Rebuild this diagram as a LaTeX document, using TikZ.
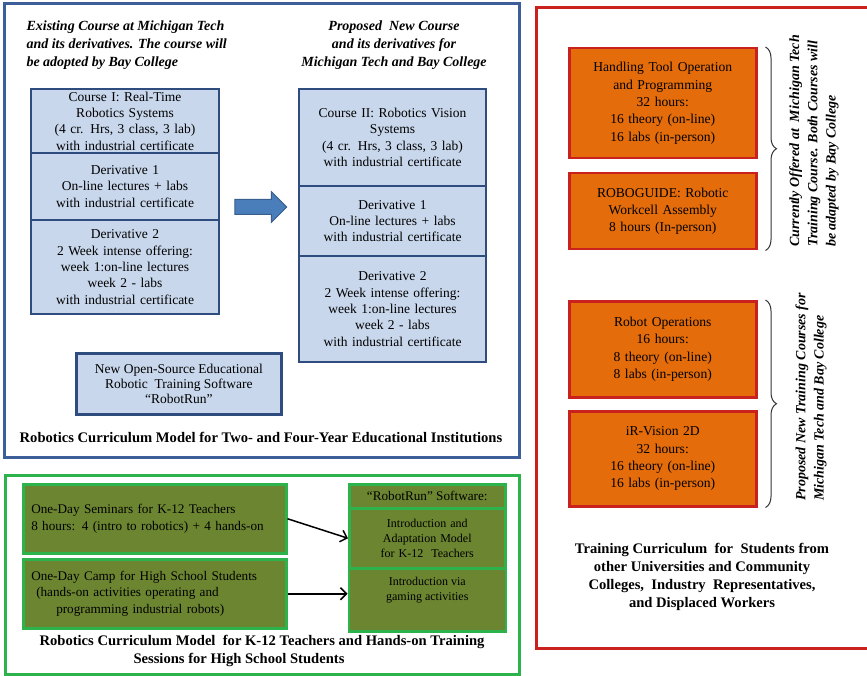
\documentclass[tikz,border=0pt]{standalone}
\usepackage{fontspec}
\setmainfont{Liberation Serif}
\usetikzlibrary{arrows.meta,positioning,shapes.arrows,decorations.pathreplacing}
\definecolor{frameblue}{HTML}{3D5F99}
\definecolor{boxblue}{HTML}{2E4D7E}
\definecolor{paleblue}{HTML}{C8D7EC}
\definecolor{arrowblue}{HTML}{4A7EBB}
\definecolor{framegreen}{HTML}{2DB34B}
\definecolor{kolive}{HTML}{6C8530}
\definecolor{framered}{HTML}{C9211E}
\definecolor{boxorange}{HTML}{E46C0A}

\begin{document}
\begin{tikzpicture}[x=1pt,y=-1pt,
	bluebox/.style={draw=boxblue,line width=2pt,fill=paleblue,align=center,inner xsep=2pt,inner ysep=1pt,font=\fontsize{13.5}{16.3}\selectfont},
	greenbox/.style={draw=framegreen,line width=2.5pt,fill=kolive,inner xsep=8pt,inner ysep=3pt,font=\fontsize{13.2}{16.5}\selectfont},
	orangebox/.style={draw=framered,line width=2.5pt,fill=boxorange,minimum width=187pt,text width=183pt,align=center,inner xsep=2pt,inner ysep=1pt,font=\fontsize{13.6}{17.3}\selectfont},
	heading/.style={font=\fontsize{14}{18.3}\selectfont\bfseries\itshape},
	caption/.style={font=\fontsize{14.6}{18}\selectfont\bfseries,align=center},
	arr/.style={-{Straight Barb[length=6pt,width=12pt]},line width=1.5pt},
	curly/.style={decorate,decoration={brace,amplitude=11pt},line width=1pt,draw=black!80}
	]
	\useasboundingbox (0,0) rectangle (867,676);
	% blue part: two- and four-year institutions
	\draw[frameblue,line width=3pt] (4,4) rectangle (519,457);
	\node[heading,anchor=west,align=left] (old) at (23,45) {Existing Course at Michigan Tech\\and its derivatives. The course will\\be adopted by Bay College};
	\node[heading,align=center] (new) at (394,45) {Proposed\ \ New Course\\and its derivatives for\\Michigan Tech and Bay College};
	\node[bluebox,minimum width=188pt,text width=184pt,minimum height=64pt,anchor=north west] (c1) at (30,88) {Course I: Real-Time\\Robotics Systems\\(4 cr. Hrs, 3 class, 3 lab)\\with industrial certificate};
	\node[bluebox,minimum width=188pt,text width=184pt,minimum height=67pt,below=-2pt of c1] (d1a) {Derivative 1\\On-line lectures + labs\\with industrial certificate};
	\node[bluebox,minimum width=188pt,text width=184pt,minimum height=94pt,below=-2pt of d1a] (d2a) {Derivative 2\\2 Week intense offering:\\week 1:on-line lectures\\week 2 - labs\\with industrial certificate};
	\node[bluebox,minimum width=187pt,text width=183pt,minimum height=97pt,anchor=north west] (c2) at (298,88) {Course II: Robotics Vision\\Systems\\(4 cr. Hrs, 3 class, 3 lab)\\with industrial certificate};
	\node[bluebox,minimum width=187pt,text width=183pt,minimum height=70pt,below=-2pt of c2] (d1b) {Derivative 1\\On-line lectures + labs\\with industrial certificate};
	\node[bluebox,minimum width=187pt,text width=183pt,minimum height=106pt,below=-2pt of d1b] (d2b) {Derivative 2\\2 Week intense offering:\\week 1:on-line lectures\\week 2 - labs\\with industrial certificate};
	\node[single arrow,draw=arrowblue!75!black,fill=arrowblue,line width=1pt,minimum height=52pt,inner xsep=0pt,inner ysep=7pt,single arrow head extend=8pt] (move) at (257,207) {};
	\node[bluebox,line width=2.8pt,minimum width=205pt,minimum height=61pt,anchor=north west,font=\fontsize{13.5}{15}\selectfont] (run) at (75,352) {New Open-Source Educational\\Robotic\ \ Training Software\\“RobotRun”};
	\node[caption] (cap1) at (261,437) {Robotics Curriculum Model for Two- and Four-Year Educational Institutions};
	% green part: K-12
	\draw[framegreen,line width=3pt] (5,475) rectangle (519,674);
	\node[greenbox,minimum width=263pt,minimum height=69pt,text width=247pt,align=left,anchor=north west] (sem) at (22,483) {One-Day Seminars for K-12 Teachers\\8 hours: 4 (intro to robotics) + 4 hands-on};
	\node[greenbox,minimum width=263pt,minimum height=69pt,text width=247pt,align=left,anchor=north west] (camp) at (22,558) {One-Day Camp for High School Students\\\mbox{}\hspace{5pt}(hands-on activities operating and\\\mbox{}\hspace{25pt}programming industrial robots)};
	\node[greenbox,minimum width=156pt,minimum height=24pt,inner ysep=1pt,inner xsep=2pt,anchor=north west] (soft) at (348,483) {“RobotRun” Software:};
	\node[greenbox,minimum width=156pt,minimum height=60pt,text width=148pt,inner xsep=4pt,align=center,below=-2.5pt of soft,font=\fontsize{12}{15}\selectfont] (ada) {Introduction and\\Adaptation Model\\for K-12\ \ Teachers};
	\node[greenbox,minimum width=157pt,minimum height=63pt,below=-2.5pt of ada,label={[anchor=north,yshift=-7pt,align=center,font=\fontsize{12}{15}\selectfont]north:Introduction via\\gaming activities}] (gam) {};
	\draw[arr] (sem.east) -- (ada.west);
	\draw[arr] (camp.east) -- (camp.east -| gam.west);
	\node[caption] (cap2) at (262,651) {Robotics Curriculum Model\ \ for K-12 Teachers and Hands-on Training\\Sessions for High School Students\hspace*{46pt}};
	% red part: training curriculum
	\draw[framered,line width=3pt] (536,8) rectangle (890,648);
	\node[orangebox,minimum height=110pt,anchor=north west] (h1) at (568,47) {Handling Tool Operation\\and Programming\\32 hours:\\16 theory (on-line)\\16 labs (in-person)};
	\node[orangebox,minimum height=76pt,anchor=north west] (h2) at (568,172) {ROBOGUIDE: Robotic\\Workcell Assembly\\8 hours (In-person)};
	\node[orangebox,minimum height=96pt,anchor=north west] (h3) at (568,300) {Robot Operations\\16 hours:\\8 theory (on-line)\\8 labs (in-person)};
	\node[orangebox,minimum height=95pt,anchor=north west] (h4) at (568,410) {iR-Vision 2D\\32 hours:\\16 theory (on-line)\\16 labs (in-person)};
	\draw[curly] ([xshift=8pt]h1.north east) -- ([xshift=8pt]h2.south east);
	\draw[curly] ([xshift=8pt]h3.north east) -- ([xshift=8pt]h4.south east);
	\node[heading,rotate=90,align=left] (now) at (814,141) {Currently Offered at\ \ Michigan Tech\\Training Course. Both Courses will\\be adapted by Bay College};
	\node[heading,rotate=90,align=left] (next) at (811,397) {Proposed New Training Courses for\\Michigan Tech and Bay College};
	\node[caption] (cap3) at (702,577) {Training Curriculum\ \ for\ \ Students from\\other Universities and Community\\Colleges,\ \ Industry\ \ Representatives,\\and Displaced Workers};
\end{tikzpicture}
\end{document}
